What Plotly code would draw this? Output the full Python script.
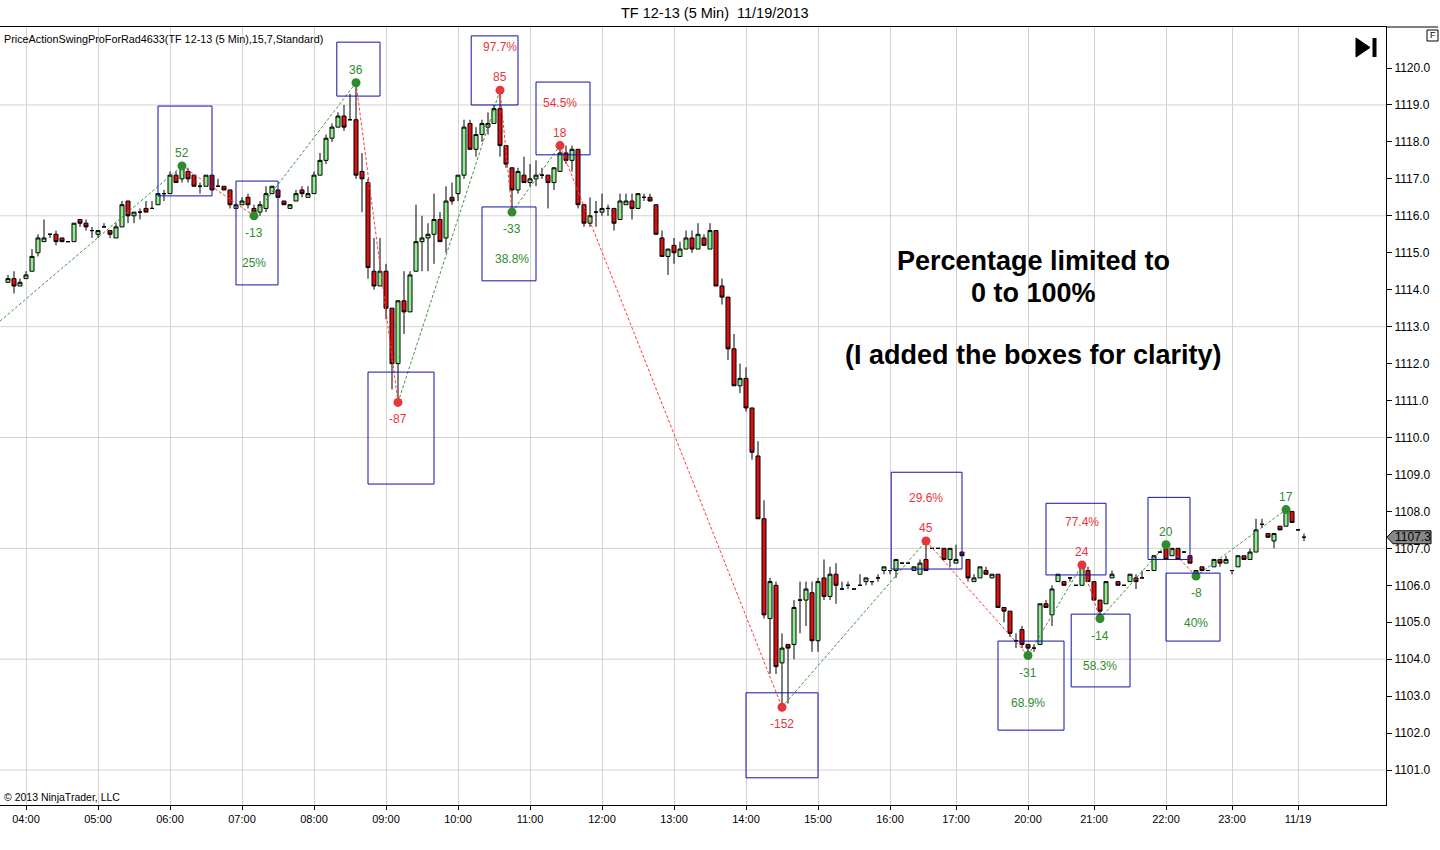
import plotly.graph_objects as go

# ---------------- data ----------------
# x axis: one slot per 5 minute bar, labels sit on the first bar of each hour
tick_bars = [3, 15, 27, 39, 51, 63, 75, 87, 99, 111, 123, 135, 147, 158, 170, 181, 193, 204, 215]
tick_labels = ["04:00", "05:00", "06:00", "07:00", "08:00", "09:00", "10:00", "11:00",
               "12:00", "13:00", "14:00", "15:00", "16:00", "17:00", "20:00", "21:00",
               "22:00", "23:00", "11/19"]
price_ticks = [float(p) for p in range(1101, 1121)]
grid_prices = [1101.0, 1104.0, 1107.0, 1110.0, 1113.0, 1116.0, 1119.0]

opens = [
    1114.2, 1114.3, 1114.1, 1114.3, 1114.5, 1115.0, 1115.3, 1115.5, 1115.5, 1115.4,   # 0
    1115.3, 1115.3, 1115.9, 1115.8, 1115.6, 1115.5, 1115.7, 1115.6, 1115.4, 1115.7,   # 10
    1116.4, 1116.0, 1116.1, 1116.2, 1116.2, 1116.3, 1116.6, 1116.6, 1117.1, 1117.0,   # 20
    1117.2, 1117.1, 1116.8, 1116.8, 1117.1, 1116.8, 1116.8, 1116.7, 1116.2, 1116.3,   # 30
    1116.5, 1116.2, 1116.1, 1116.2, 1116.6, 1116.7, 1116.4, 1116.2, 1116.4, 1116.7,   # 40
    1116.5, 1116.6, 1117.1, 1117.5, 1118.1, 1118.4, 1118.7, 1118.6, 1118.6, 1117.2,   # 50
    1116.9, 1114.5, 1114.1, 1114.5, 1113.5, 1112.0, 1113.7, 1113.4, 1114.5, 1115.3,   # 60
    1115.4, 1115.5, 1115.9, 1115.4, 1116.5, 1116.6, 1117.1, 1118.5, 1117.8, 1118.2,   # 70
    1118.4, 1118.5, 1118.9, 1117.9, 1117.3, 1116.7, 1117.1, 1116.9, 1117.0, 1117.1,   # 80
    1117.1, 1116.9, 1117.2, 1117.7, 1117.5, 1117.8, 1116.3, 1115.8, 1116.1, 1116.1,   # 90
    1116.2, 1116.2, 1115.9, 1116.3, 1116.4, 1116.2, 1116.5, 1116.5, 1116.3, 1115.4,   # 100
    1114.9, 1115.2, 1114.9, 1115.1, 1115.4, 1115.1, 1115.4, 1115.1, 1115.6, 1114.1,   # 110
    1113.8, 1112.4, 1111.4, 1111.6, 1110.8, 1109.5, 1107.8, 1105.1, 1106.0, 1103.9,   # 120
    1104.4, 1104.4, 1105.6, 1105.6, 1105.8, 1104.5, 1106.2, 1105.7, 1106.3, 1105.9,   # 130
    1106.0, 1105.9, 1106.0, 1106.1, 1106.1, 1106.2, 1106.4, 1106.4, 1106.4, 1106.6,   # 140
    1106.6, 1106.4, 1106.3, 1106.7, 1107.0, 1107.0, 1107.0, 1106.7, 1106.6, 1106.9,   # 150
    1106.7, 1106.1, 1106.2, 1106.4, 1106.2, 1106.3, 1105.4, 1105.3, 1104.5, 1104.8,   # 160
    1104.4, 1104.3, 1104.4, 1105.5, 1105.2, 1106.1, 1106.1, 1106.2, 1106.0, 1106.0,   # 170
    1106.4, 1106.1, 1105.6, 1105.5, 1106.2, 1106.1, 1106.0, 1106.1, 1106.2, 1106.2,   # 180
    1106.4, 1106.4, 1106.9, 1107.0, 1106.8, 1107.0, 1106.9, 1106.8, 1106.4, 1106.5,   # 190
    1106.4, 1106.5, 1106.7, 1106.6, 1106.4, 1106.5, 1106.8, 1106.7, 1106.9, 1107.65,  # 200
    1107.4, 1107.2, 1107.6, 1107.6, 1108.0, 1107.5, 1107.3,                           # 210
]
highs = [
    1114.4, 1114.5, 1114.3, 1114.5, 1115.1, 1115.5, 1115.9, 1115.5, 1115.6, 1115.4,
    1115.3, 1115.8, 1115.9, 1115.9, 1115.7, 1115.6, 1115.8, 1115.6, 1115.8, 1116.4,
    1116.4, 1116.1, 1116.2, 1116.4, 1116.4, 1116.6, 1116.7, 1117.2, 1117.2, 1117.35,
    1117.3, 1117.1, 1116.9, 1117.1, 1117.1, 1117.0, 1116.8, 1116.7, 1116.3, 1116.5,
    1116.6, 1116.3, 1116.4, 1116.8, 1116.8, 1116.7, 1116.4, 1116.3, 1116.7, 1116.8,
    1116.8, 1117.2, 1117.7, 1118.2, 1118.5, 1118.8, 1119.0, 1119.3, 1119.6, 1117.7,
    1117.0, 1115.4, 1115.4, 1114.7, 1113.5, 1113.7, 1114.5, 1114.5, 1116.3, 1116.0,
    1115.8, 1116.6, 1116.1, 1116.8, 1116.9, 1117.1, 1118.6, 1118.6, 1118.4, 1118.6,
    1118.8, 1119.0, 1119.4, 1117.9, 1117.3, 1117.3, 1117.6, 1117.4, 1117.5, 1117.3,
    1117.1, 1117.3, 1117.9, 1117.9, 1117.9, 1117.8, 1116.3, 1116.5, 1116.4, 1116.6,
    1116.3, 1116.2, 1116.6, 1116.6, 1116.6, 1116.6, 1116.6, 1116.6, 1116.3, 1115.6,
    1115.1, 1115.4, 1115.3, 1115.6, 1115.6, 1115.8, 1115.5, 1115.8, 1115.6, 1114.3,
    1113.8, 1112.8, 1112.0, 1111.9, 1110.8, 1109.9, 1108.3, 1106.2, 1106.1, 1104.7,
    1104.4, 1105.6, 1106.1, 1106.1, 1106.1, 1106.2, 1106.7, 1106.5, 1106.6, 1106.1,
    1106.1, 1105.9, 1106.3, 1106.2, 1106.1, 1106.3, 1106.5, 1106.4, 1106.7, 1106.6,
    1106.6, 1106.5, 1106.7, 1107.2, 1107.0, 1107.0, 1107.0, 1107.0, 1107.1, 1106.9,
    1106.7, 1106.3, 1106.5, 1106.5, 1106.3, 1106.3, 1105.4, 1105.3, 1104.7, 1104.9,
    1104.4, 1104.4, 1105.5, 1105.6, 1106.0, 1106.3, 1106.1, 1106.2, 1106.0, 1106.55,
    1106.5, 1106.1, 1105.6, 1106.1, 1106.4, 1106.1, 1106.0, 1106.3, 1106.3, 1106.4,
    1106.4, 1106.8, 1106.9, 1107.1, 1107.0, 1107.0, 1106.9, 1106.8, 1106.4, 1106.5,
    1106.4, 1106.7, 1106.7, 1106.8, 1106.4, 1106.8, 1106.8, 1107.0, 1107.8, 1107.8,
    1107.4, 1107.4, 1107.6, 1108.05, 1108.0, 1107.5, 1107.4,
]
lows = [
    1114.2, 1113.9, 1114.1, 1114.3, 1114.5, 1114.9, 1115.3, 1115.4, 1115.2, 1115.3,
    1115.3, 1115.3, 1115.7, 1115.6, 1115.4, 1115.4, 1115.7, 1115.4, 1115.4, 1115.7,
    1115.8, 1115.8, 1115.9, 1116.1, 1116.2, 1116.3, 1116.4, 1116.6, 1116.9, 1116.9,
    1116.9, 1116.8, 1116.6, 1116.8, 1116.7, 1116.8, 1116.7, 1116.2, 1116.2, 1116.3,
    1116.2, 1116.0, 1116.0, 1116.1, 1116.6, 1116.5, 1116.3, 1116.2, 1116.4, 1116.5,
    1116.5, 1116.6, 1117.1, 1117.4, 1118.0, 1118.4, 1118.3, 1118.6, 1117.0, 1116.1,
    1114.3, 1114.0, 1114.1, 1113.2, 1111.3, 1110.95, 1112.8, 1113.4, 1114.5, 1114.5,
    1114.5, 1114.7, 1115.3, 1115.0, 1116.3, 1116.4, 1117.0, 1117.8, 1117.6, 1118.0,
    1118.2, 1118.5, 1117.6, 1117.3, 1116.1, 1116.6, 1116.9, 1116.8, 1116.8, 1117.0,
    1116.2, 1116.7, 1117.2, 1117.4, 1117.2, 1116.2, 1115.7, 1115.7, 1115.7, 1116.0,
    1116.0, 1115.6, 1115.9, 1116.3, 1115.9, 1116.2, 1116.4, 1116.4, 1115.5, 1114.9,
    1114.4, 1114.7, 1114.9, 1115.1, 1115.0, 1115.1, 1115.2, 1115.1, 1114.1, 1113.6,
    1112.1, 1111.4, 1111.2, 1110.7, 1109.4, 1107.8, 1105.1, 1103.6, 1103.6, 1102.7,
    1102.8, 1104.0, 1104.7, 1104.9, 1104.2, 1104.2, 1105.6, 1105.6, 1105.5, 1105.9,
    1105.9, 1105.9, 1106.0, 1106.0, 1106.0, 1106.1, 1106.3, 1106.3, 1106.2, 1106.6,
    1106.6, 1106.4, 1106.3, 1106.4, 1107.0, 1107.0, 1106.7, 1106.5, 1106.6, 1106.8,
    1106.1, 1106.1, 1106.2, 1106.3, 1106.2, 1105.4, 1105.0, 1104.6, 1104.3, 1104.3,
    1104.1, 1104.2, 1104.4, 1105.4, 1104.9, 1106.1, 1106.0, 1106.1, 1106.0, 1106.0,
    1106.1, 1105.6, 1105.1, 1105.5, 1106.2, 1106.0, 1106.0, 1106.1, 1105.9, 1106.2,
    1106.4, 1106.4, 1106.9, 1106.7, 1106.8, 1106.7, 1106.9, 1106.6, 1106.25, 1106.4,
    1106.4, 1106.5, 1106.5, 1106.6, 1106.3, 1106.5, 1106.7, 1106.7, 1106.9, 1107.55,
    1107.3, 1107.0, 1107.5, 1107.6, 1107.7, 1107.5, 1107.2,
]
closes = [
    1114.3, 1114.1, 1114.2, 1114.4, 1114.9, 1115.4, 1115.4, 1115.5, 1115.3, 1115.3,
    1115.3, 1115.8, 1115.8, 1115.7, 1115.6, 1115.6, 1115.7, 1115.5, 1115.7, 1116.3,
    1116.0, 1116.1, 1116.1, 1116.1, 1116.2, 1116.6, 1116.6, 1117.1, 1116.9, 1117.3,
    1117.0, 1116.8, 1116.8, 1117.1, 1116.7, 1116.8, 1116.7, 1116.3, 1116.3, 1116.4,
    1116.3, 1116.1, 1116.3, 1116.6, 1116.8, 1116.5, 1116.3, 1116.3, 1116.6, 1116.6,
    1116.6, 1117.1, 1117.5, 1118.1, 1118.4, 1118.7, 1118.4, 1118.6, 1117.1, 1117.0,
    1114.6, 1114.1, 1114.5, 1113.5, 1112.0, 1113.7, 1113.4, 1114.4, 1115.3, 1115.4,
    1115.5, 1115.9, 1115.3, 1116.4, 1116.4, 1117.1, 1118.4, 1117.8, 1118.2, 1118.5,
    1118.5, 1118.9, 1117.9, 1117.4, 1116.7, 1117.2, 1116.9, 1117.0, 1117.1, 1117.1,
    1116.9, 1117.3, 1117.7, 1117.5, 1117.8, 1116.3, 1115.8, 1116.0, 1116.1, 1116.2,
    1116.2, 1115.8, 1116.4, 1116.4, 1116.2, 1116.6, 1116.5, 1116.4, 1115.5, 1114.9,
    1115.1, 1115.0, 1115.1, 1115.4, 1115.1, 1115.5, 1115.2, 1115.6, 1114.1, 1113.8,
    1112.4, 1111.4, 1111.6, 1110.8, 1109.6, 1107.8, 1105.2, 1106.1, 1103.8, 1104.3,
    1104.3, 1105.4, 1105.6, 1105.9, 1104.5, 1106.1, 1105.7, 1106.3, 1106.0, 1105.9,
    1106.0, 1105.9, 1106.0, 1106.2, 1106.1, 1106.2, 1106.5, 1106.4, 1106.7, 1106.6,
    1106.6, 1106.5, 1106.6, 1106.4, 1107.0, 1107.0, 1106.7, 1107.0, 1106.7, 1106.8,
    1106.2, 1106.2, 1106.5, 1106.3, 1106.3, 1105.4, 1105.3, 1104.7, 1104.5, 1104.4,
    1104.3, 1104.3, 1105.5, 1105.4, 1105.9, 1106.3, 1106.0, 1106.2, 1106.0, 1106.5,
    1106.1, 1105.6, 1105.3, 1106.1, 1106.3, 1106.0, 1106.0, 1106.3, 1106.1, 1106.2,
    1106.4, 1106.8, 1106.9, 1106.7, 1107.0, 1106.7, 1106.9, 1106.6, 1106.3, 1106.4,
    1106.4, 1106.7, 1106.6, 1106.7, 1106.4, 1106.8, 1106.7, 1106.9, 1107.5, 1107.65,
    1107.3, 1107.4, 1107.5, 1108.0, 1107.7, 1107.5, 1107.3,
]
bars = list(range(len(opens)))

# swing points of the PriceActionSwing indicator
swing_bars = [29, 41, 58, 65, 82, 84, 92, 129, 153, 170, 179, 182, 193, 198, 213]
swing_is_high = [True, False, True, False, True, False, True, False,
                 True, False, True, False, True, False, True]
swing_labels = ["52", "-13", "36", "-87", "85", "-33", "18", "-152",
                "45", "-31", "24", "-14", "20", "-8", "17"]
swing_pcts = ["", "25%", "", "", "97.7%", "38.8%", "54.5%", "",
              "29.6%", "68.9%", "77.4%", "58.3%", "", "40%", ""]
swing_good = [True, True, True, False, False, True, False, False,
              False, True, False, True, True, True, True]
zig_start_bar = -1.33
zig_start_price = 1113.15

# hand drawn boxes (bar from, bar to, price bottom, price top)
box_bar0 = [25.0, 38.0, 54.8, 60.0, 77.2, 79.0, 88.0, 123.0, 147.2, 165.0, 173.0, 177.2, 190.0, 193.0]
box_bar1 = [34.0, 45.0, 62.0, 71.0, 85.0, 88.0, 97.0, 135.0, 159.0, 176.0, 183.0, 187.0, 197.0, 202.0]
box_lo = [1116.54, 1114.13, 1119.24, 1108.74, 1119.0, 1114.24, 1117.65, 1100.79,
          1106.44, 1102.08, 1106.28, 1103.25, 1106.7, 1104.49]
box_hi = [1118.97, 1116.94, 1120.70, 1111.77, 1120.87, 1116.24, 1119.62, 1103.09,
          1109.06, 1104.49, 1108.22, 1105.22, 1108.38, 1106.33]

last_price = 1107.3

# ---------------- figure ----------------
W, H = 1440, 850
ML, MR, MT, MB = 0, 54, 27, 45
PW, PH = W - ML - MR, H - MT - MB
FONT = "Liberation Sans, Arial, sans-serif"
GREEN, RED, BLUE = "#2E8B2E", "#E8353A", "#1010B0"


def px(x):
    return (x - ML) / PW


def py(y):
    return (MT + PH - y) / PH


fig = go.Figure()

fig.add_trace(go.Candlestick(
    x=bars, open=opens, high=highs, low=lows, close=closes,
    increasing=dict(line=dict(color="black", width=1), fillcolor="#90EE90"),
    decreasing=dict(line=dict(color="black", width=1), fillcolor="#DA1010"),
    whiskerwidth=0, hoverinfo="skip", showlegend=False,
))

swing_prices = [highs[b] if hi else lows[b] for b, hi in zip(swing_bars, swing_is_high)]

# zigzag
zx = [zig_start_bar] + swing_bars
zy = [zig_start_price] + swing_prices
for i in range(len(zx) - 1):
    col = "#3C963C" if zy[i + 1] > zy[i] else "#FF3A3A"
    fig.add_trace(go.Scatter(
        x=[zx[i], zx[i + 1]], y=[zy[i], zy[i + 1]], mode="lines",
        line=dict(color=col, width=1, dash="3px,2px"),
        hoverinfo="skip", showlegend=False,
    ))

dot_colors = [GREEN if g else RED for g in swing_good]
fig.add_trace(go.Scatter(
    x=swing_bars, y=swing_prices, mode="markers",
    marker=dict(size=9, color=dot_colors, line=dict(width=0)),
    hoverinfo="skip", showlegend=False,
))

annotations = []
for b, p, hi, lab, pct, col in zip(swing_bars, swing_prices, swing_is_high,
                                   swing_labels, swing_pcts, dot_colors):
    sign = 1 if hi else -1
    annotations.append(dict(x=b, y=p, xref="x", yref="y", text=lab, showarrow=False,
                            xanchor="center", yshift=sign * (13 if hi else 17),
                            font=dict(family=FONT, size=12, color=col)))
    if pct:
        annotations.append(dict(x=b, y=p, xref="x", yref="y", text=pct, showarrow=False,
                                xanchor="center", yshift=sign * (43 if hi else 47),
                                font=dict(family=FONT, size=12, color=col)))


def note(x, y, text, size, anchor="center", bold=False):
    return dict(x=px(x), y=py(y), xref="paper", yref="paper", xanchor=anchor,
                yanchor="middle", showarrow=False,
                text=f"<b>{text}</b>" if bold else text,
                font=dict(family=FONT, size=size, color="black"))


annotations += [
    note(715, 13, "TF 12-13 (5 Min)\u00a0\u00a011/19/2013", 14.5),
    note(2, 39, "PriceActionSwingProForRad4633(TF 12-13 (5 Min),15,7,Standard)", 10.8, "left"),
    note(2, 797, "\u00a9 2013 NinjaTrader, LLC", 10.5, "left"),
    note(1033, 261, "Percentage limited to", 27, bold=True),
    note(1033, 293, "0 to 100%", 27, bold=True),
    note(1033, 355, "(I added the boxes for clarity)", 27, bold=True),
    note(1432.5, 35.5, "F", 9),
    dict(x=px(1393), y=last_price, xref="paper", yref="y", xanchor="left",
         text=f"{last_price:.1f}", showarrow=False,
         font=dict(family=FONT, size=12, color="black")),
]

shapes = []
for p in grid_prices:
    shapes.append(dict(type="line", xref="paper", yref="y", x0=0, x1=1, y0=p, y1=p,
                       line=dict(color="#D2D2D2", width=1), layer="below"))
for x0, x1, y0, y1 in zip(box_bar0, box_bar1, box_lo, box_hi):
    shapes.append(dict(type="rect", xref="x", yref="y", x0=x0, x1=x1, y0=y0, y1=y1,
                       line=dict(color=BLUE, width=1), fillcolor="rgba(0,0,0,0)"))
# frame over the price scale, F box and the "go to end" icon
shapes += [
    dict(type="line", xref="paper", yref="paper", x0=1, x1=px(1438), y0=1, y1=1,
         line=dict(color="black", width=1)),
    dict(type="rect", xref="paper", yref="paper", x0=px(1427), x1=px(1438),
         y0=py(41), y1=py(30), line=dict(color="black", width=1)),
    dict(type="path", xref="paper", yref="paper", fillcolor="black",
         line=dict(color="black", width=1),
         path=f"M {px(1356)} {py(38)} L {px(1370)} {py(47.5)} L {px(1356)} {py(57)} Z"),
    dict(type="rect", xref="paper", yref="paper", x0=px(1372.5), x1=px(1376.5),
         y0=py(57), y1=py(38), fillcolor="black", line=dict(color="black", width=0)),
]
half = 6.5 / 36.95
shapes.append(dict(
    type="path", xref="paper", yref="y", fillcolor="#888888",
    line=dict(color="black", width=1),
    path=(f"M {px(1387)} {last_price} L {px(1393)} {last_price + half} "
          f"L {px(1431)} {last_price + half} L {px(1431)} {last_price - half} "
          f"L {px(1393)} {last_price - half} Z"),
))

fig.update_layout(
    width=W, height=H,
    margin=dict(l=ML, r=MR, t=MT, b=MB, autoexpand=False),
    paper_bgcolor="white", plot_bgcolor="white",
    showlegend=False,
    boxgap=0.33, boxgroupgap=0,
    annotations=annotations,
    shapes=shapes,
    xaxis=dict(
        range=[-1.333, 229.667], tickmode="array", tickvals=tick_bars, ticktext=tick_labels,
        showgrid=True, gridcolor="#D2D2D2", gridwidth=1, zeroline=False,
        showline=True, linecolor="black", linewidth=1, mirror=True,
        ticks="outside", ticklen=4, tickcolor="black",
        tickfont=dict(family=FONT, size=11, color="black"),
        rangeslider=dict(visible=False), fixedrange=True,
    ),
    yaxis=dict(
        side="right", range=[1100.054, 1121.11], tickmode="array", tickvals=price_ticks,
        tickformat=".1f", showgrid=False, zeroline=False,
        showline=True, linecolor="black", linewidth=1, mirror=True,
        ticks="outside", ticklen=5, tickcolor="black",
        tickfont=dict(family=FONT, size=12, color="black"), fixedrange=True,
    ),
)

fig.write_html("out.html", config={"displayModeBar": False},
               post_script="document.body.style.margin='0';")
